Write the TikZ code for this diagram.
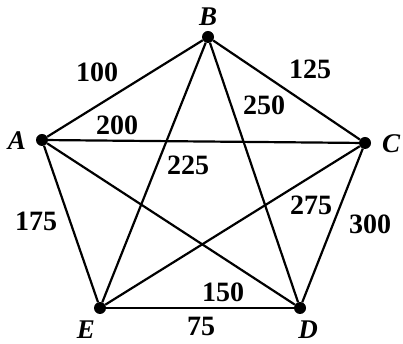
\documentclass[tikz,border=0pt]{standalone}
\usepackage{fontspec}
\setmainfont{Liberation Serif}
\begin{document}
\begin{tikzpicture}[x=1pt,y=1pt,
  vert/.style={circle,fill=black,inner sep=0pt,minimum size=12pt},
  edge/.style={line width=2.2pt},
  wt/.style={font=\fontsize{28}{28}\selectfont\bfseries,inner sep=0pt},
  vlab/.style={font=\fontsize{27}{27}\selectfont\bfseries\itshape,inner sep=0pt}]
\useasboundingbox (0,0) rectangle (403,344);
\node[vert] (B) at (208,307) {};
\node[vert] (A) at (42,204) {};
\node[vert] (C) at (365,201) {};
\node[vert] (E) at (100,36) {};
\node[vert] (D) at (300,36) {};
\node[vlab] (lB) at (208,327) {B};
\node[vlab] (lA) at (17,203) {A};
\node[vlab] (lC) at (391,200) {C};
\node[vlab,anchor=base] (lE) at (86,5) {E};
\node[vlab,anchor=base] (lD) at (308,5) {D};
\draw[edge] (A) -- (B);
\draw[edge] (B) -- (C);
\draw[edge] (C) -- (D);
\draw[edge] (D) -- (E);
\draw[edge] (E) -- (A);
\draw[edge] (A) -- (C);
\draw[edge] (A) -- (D);
\draw[edge] (B) -- (E);
\draw[edge] (B) -- (D);
\draw[edge] (C) -- (E);
\node[wt] (w100) at (97,272) {100};
\node[wt] (w125) at (310,275) {125};
\node[wt] (w200) at (117,219) {200};
\node[wt] (w250) at (264,239) {250};
\node[wt] (w225) at (188,179) {225};
\node[wt] (w275) at (311,139) {275};
\node[wt] (w300) at (370,120) {300};
\node[wt] (w175) at (36,123) {175};
\node[wt] (w150) at (223,52) {150};
\node[wt] (w75) at (201,18) {75};
\end{tikzpicture}
\end{document}
